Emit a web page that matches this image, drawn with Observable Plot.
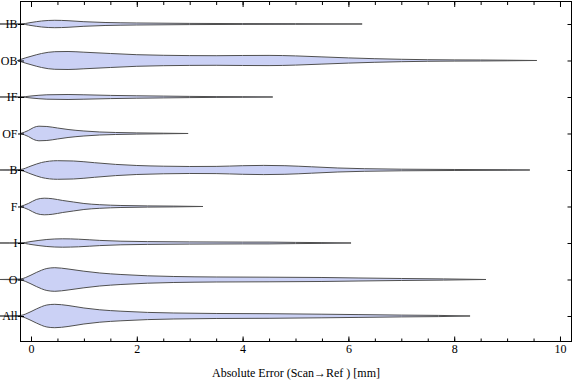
<!DOCTYPE html>
<html>
<head>
<meta charset="utf-8">
<script src="https://cdn.jsdelivr.net/npm/d3@7"></script>
<script src="https://cdn.jsdelivr.net/npm/@observablehq/plot@0.6"></script>
<style>
  html, body { margin: 0; padding: 0; background: white; }
</style>
</head>
<body>
<div id="chart"></div>
<script>
// Categories, top to bottom
const categories = ["IB", "OB", "IF", "OF", "B", "F", "I", "O", "All"];

// Violin profiles: [absolute error (mm), half-width density]
const IB  = [[-0.6,0],[-0.2,0],[0,1.5],[0.2,3],[0.45,3.7],[0.7,3.3],[1.0,2.3],[1.4,1.5],[2.0,1],[3.0,0.6],[4.0,0.4],[5.0,0.3],[6.26,0]];
const OB  = [[-0.25,0],[-0.2,1],[0,4.2],[0.2,7],[0.45,8.8],[0.7,9],[1.0,8.3],[1.5,7],[2.0,5.8],[2.5,5.2],[3.0,4.9],[3.5,4.8],[4.0,5],[4.5,5.1],[5.0,4.6],[5.5,3.6],[6.0,2.6],[6.5,1.8],[7.0,1.2],[7.5,0.8],[8.0,0.6],[8.5,0.5],[9.0,0.3],[9.56,0]];
const IF  = [[-0.6,0],[-0.2,0],[0,1],[0.3,2.2],[0.7,2.5],[1.0,2.2],[1.5,1.6],[2.0,1.2],[2.5,0.9],[3.0,0.6],[3.5,0.4],[4.0,0.3],[4.57,0]];
const OF  = [[-0.2,0],[-0.05,3],[0.05,6],[0.15,7.3],[0.3,7],[0.5,5.5],[0.7,4],[1.0,2.5],[1.3,1.5],[1.6,1],[2.0,0.6],[2.5,0.3],[2.97,0]];
const B   = [[-0.6,0],[-0.2,0.5],[0,4],[0.2,7.5],[0.5,9.3],[0.8,9],[1.2,7.3],[1.6,5.6],[2.0,4.5],[2.5,3.8],[3.0,3.5],[3.5,3.6],[4.0,4.3],[4.4,4.6],[4.8,4.3],[5.3,3.2],[5.8,2],[6.3,1.3],[7.0,0.8],[8.0,0.5],[9.0,0.3],[9.43,0]];
const F   = [[-0.2,0],[-0.05,3],[0.1,7],[0.25,8.3],[0.4,7.8],[0.6,6],[0.8,4.5],[1.0,3],[1.3,1.8],[1.7,1],[2.2,0.6],[2.7,0.4],[3.25,0]];
const I   = [[-0.6,0],[-0.2,0],[0,1.5],[0.3,3.5],[0.6,4.2],[0.9,3.8],[1.3,2.6],[1.7,1.8],[2.2,1.4],[3.0,1.1],[4.0,0.9],[4.5,0.9],[5.0,0.6],[5.5,0.4],[6.05,0]];
const O   = [[-0.6,0],[-0.2,0.5],[-0.1,2],[0.1,7],[0.3,11],[0.45,11.8],[0.7,10.5],[1.0,8.3],[1.3,6.5],[1.7,5],[2.2,3.7],[2.7,3],[3.5,2.5],[4.5,2.3],[5.5,2],[6.2,1.5],[7.0,1],[7.8,0.6],[8.6,0]];
const All = [[-0.6,0],[-0.2,0.5],[-0.1,2],[0.1,7],[0.3,11],[0.45,11.7],[0.7,10.5],[1.0,8],[1.3,6.2],[1.7,4.8],[2.2,3.6],[2.7,3],[3.5,2.5],[4.5,2.3],[5.5,1.8],[6.2,1.4],[7.0,0.9],[7.7,0.6],[8.3,0]];

const profiles = [IB, OB, IF, OF, B, F, I, O, All];

// Tick values
const xMajorTicks = [0, 2, 4, 6, 8, 10];
const xMinorTicks = [0, 0.5, 1, 1.5, 2, 2.5, 3, 3.5, 4, 4.5, 5, 5.5, 6, 6.5, 7, 7.5, 8, 8.5, 9, 9.5, 10];
const xLabel = "Absolute Error (Scan\u2192Ref ) [mm]";

// density -> row units
const widthScale = 1 / 36.5;

const rows = [];
profiles.forEach((p, i) => {
  p.forEach(([x, w]) => rows.push({cat: categories[i], i, x, w}));
});
const rowIdx = categories.map((_, i) => i);

const chart = Plot.plot({
  width: 576,
  height: 381,
  marginLeft: 20,
  marginRight: 5,
  marginTop: 1,
  marginBottom: 40,
  style: {fontFamily: "'Liberation Serif', 'Times New Roman', serif", fontSize: "12px", background: "white", color: "black"},
  x: {domain: [-0.208, 10.208]},
  y: {domain: [8.685, -0.63]},
  marks: [
    Plot.areaY(rows, {
      x: "x",
      y1: d => d.i - d.w * widthScale,
      y2: d => d.i + d.w * widthScale,
      z: "cat",
      fill: "#cbd1f5",
      stroke: "#505050",
      strokeWidth: 1,
      curve: "monotone-x"
    }),
    Plot.frame({stroke: "black", strokeWidth: 1}),
    Plot.axisX(xMinorTicks, {anchor: "bottom", tickSize: -2.5, tickFormat: () => "", label: null}),
    Plot.axisX(xMajorTicks, {anchor: "bottom", tickSize: -4.5, tickFormat: () => "", label: null}),
    Plot.axisX(xMajorTicks, {anchor: "bottom", tickSize: 0, tickPadding: 3, tickFormat: d => String(d),
      label: xLabel, labelAnchor: "center", labelArrow: "none", labelOffset: 35}),
    Plot.axisX(xMinorTicks, {anchor: "top", tickSize: -3, tickFormat: () => "", label: null}),
    Plot.axisX(xMajorTicks, {anchor: "top", tickSize: -5, tickFormat: () => "", label: null}),
    Plot.axisY(rowIdx, {anchor: "left", tickSize: -4, tickFormat: () => "", label: null}),
    Plot.axisY(rowIdx, {anchor: "left", tickSize: 2, tickFormat: () => "", label: null}),
    Plot.axisY(rowIdx, {anchor: "left", tickSize: 0, tickPadding: 3, tickFormat: i => categories[i], label: null}),
    Plot.axisY(rowIdx, {anchor: "right", tickSize: -4.5, tickFormat: () => "", label: null})
  ]
});
document.getElementById("chart").appendChild(chart);
</script>
</body>
</html>
